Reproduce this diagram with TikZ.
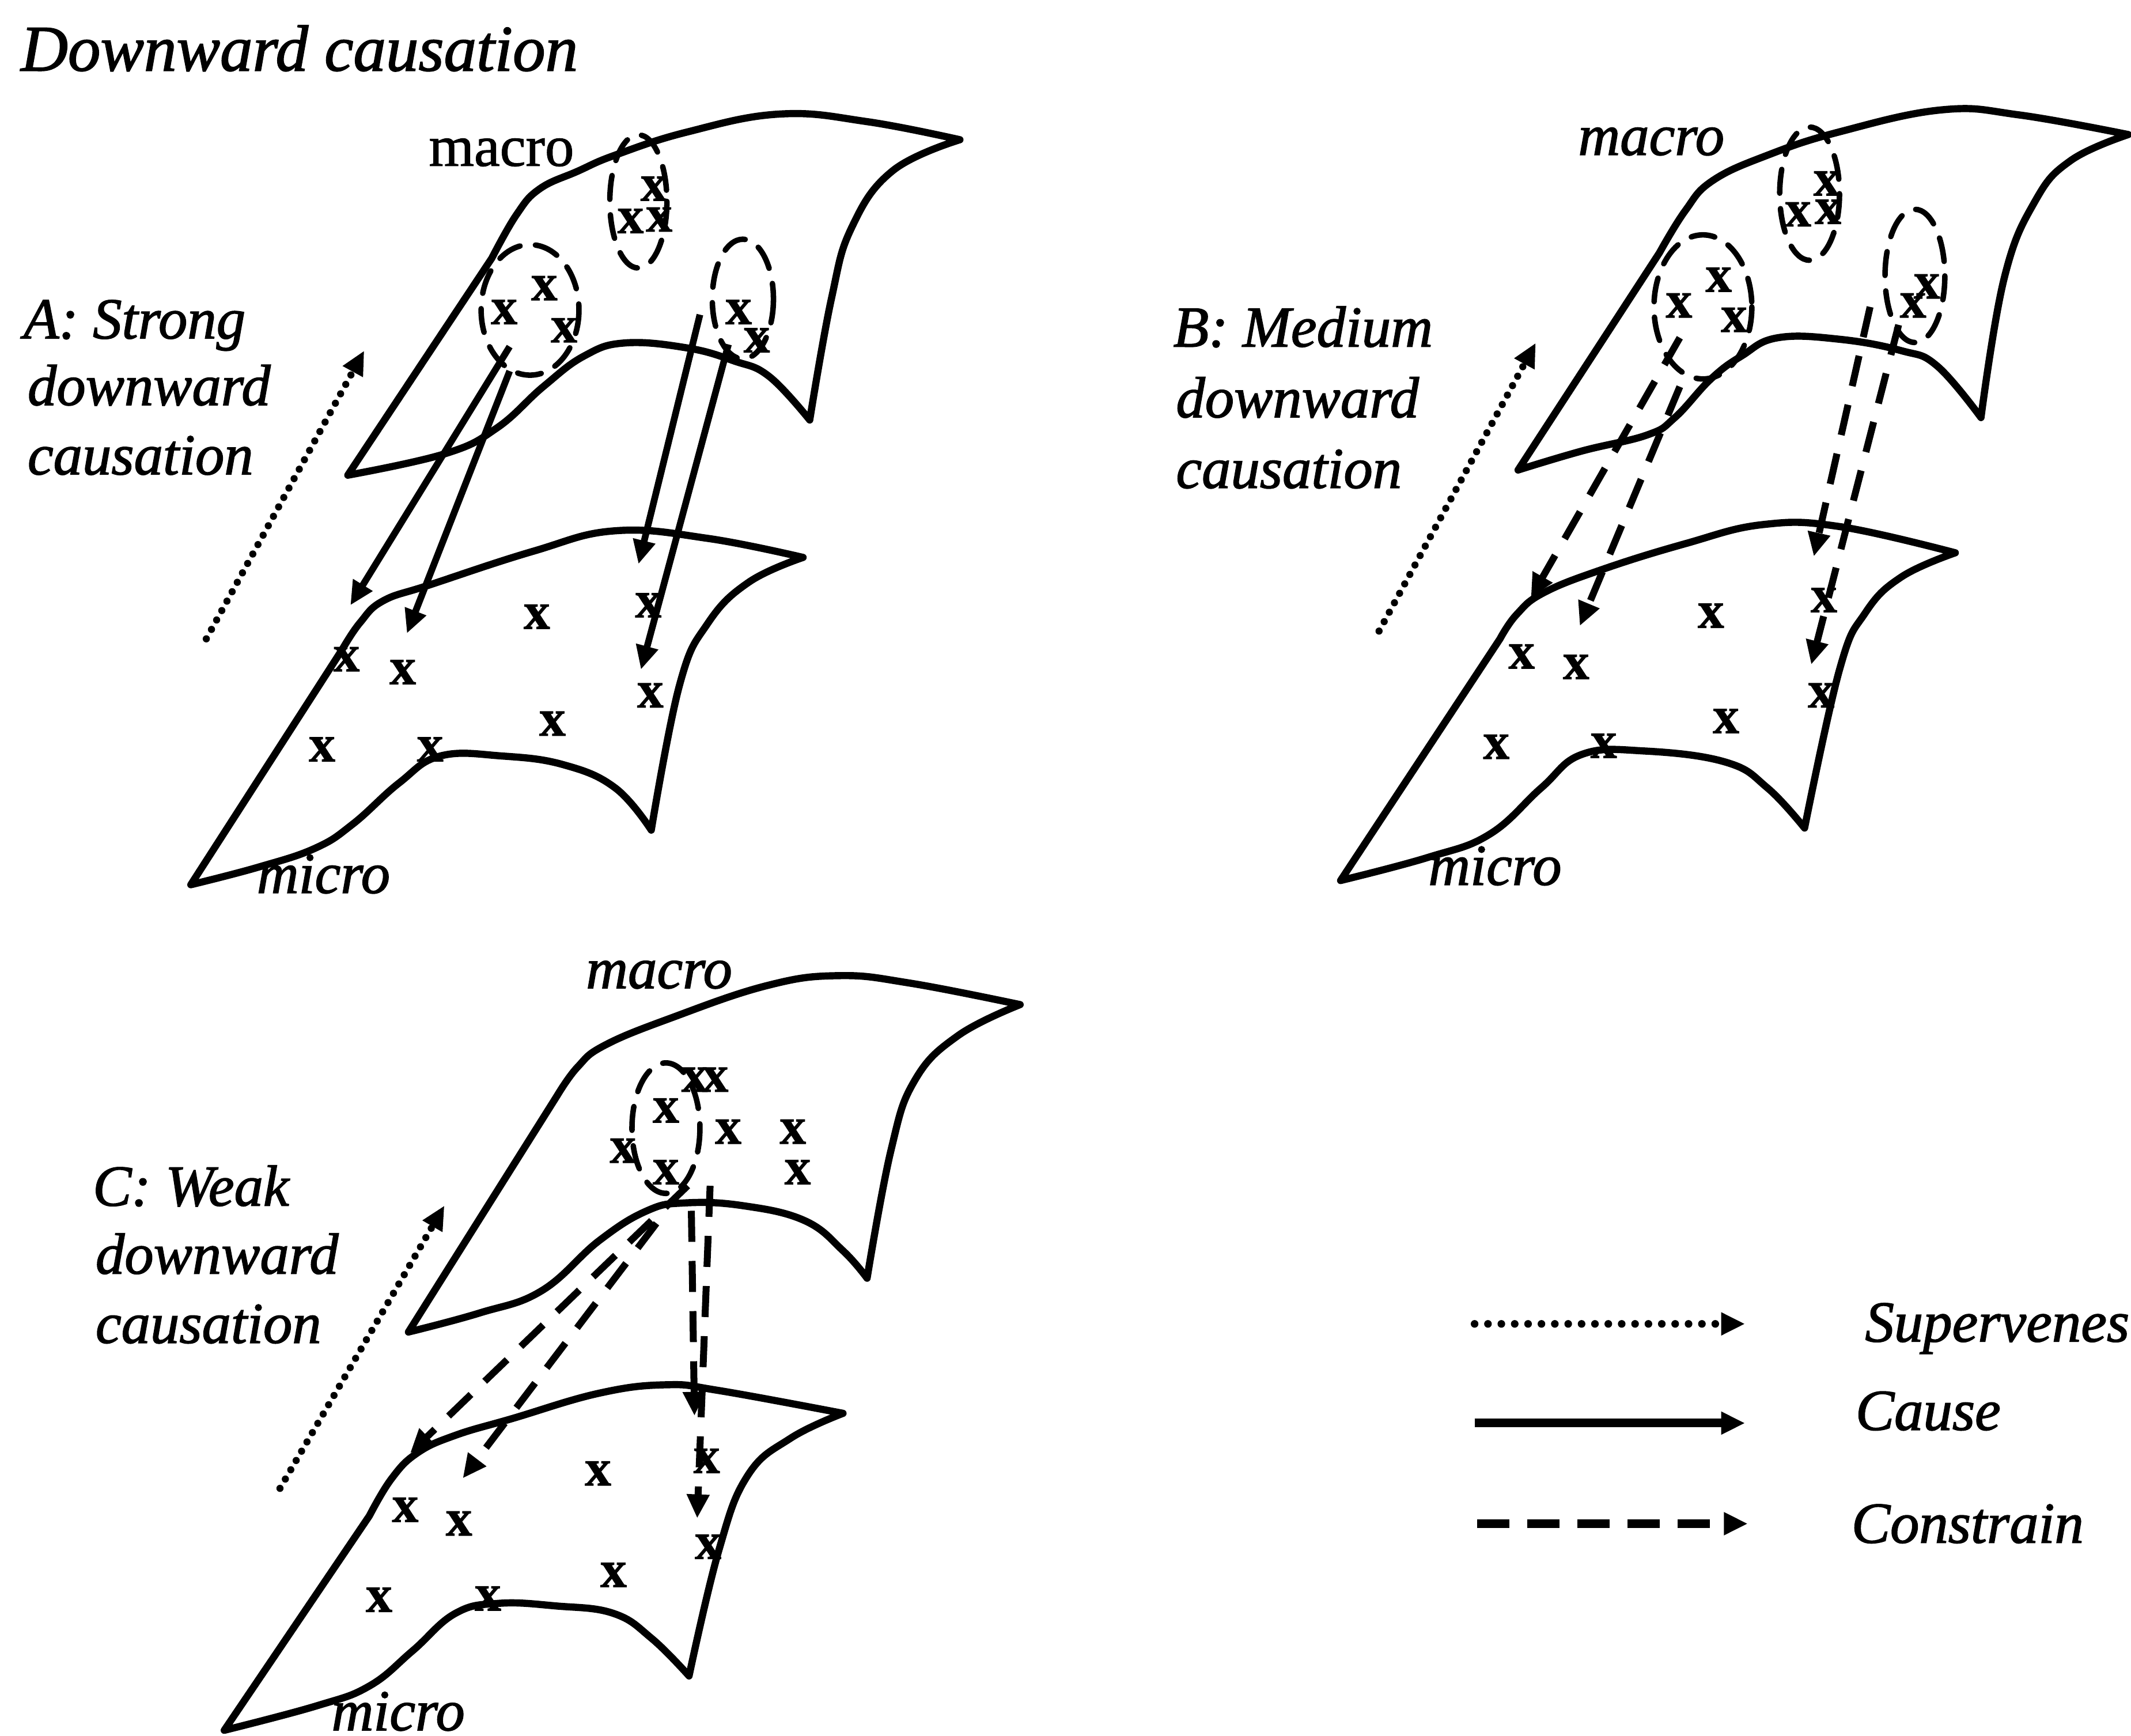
\documentclass[tikz,border=0pt]{standalone}
\usepackage{fontspec}
\setmainfont{Liberation Serif}[ItalicFeatures={FakeBold=1.6},UprightFeatures={FakeBold=1.2},BoldFeatures={FakeBold=1.2}]
\usetikzlibrary{arrows.meta}
\tikzset{
  surf/.style={line width=3pt,line cap=round,line join=round},
  ring/.style={line width=2.3pt,dash pattern=on 10pt off 6.5pt,line cap=round},
  lab/.style={anchor=base west,inner sep=0pt,font=\fontsize{24.3}{28}\selectfont\itshape},
  mlab/.style={anchor=base,inner sep=0pt,font=\fontsize{24.3}{28}\selectfont\itshape},
  xm/.style={inner sep=0pt,font=\fontsize{22}{24}\selectfont\bfseries},
  tipA/.style={-{Triangle[length=10pt,width=9pt]}},
  super/.style={tipA,line width=3pt,line cap=round,dash pattern=on 0pt off 4.5pt},
  cause/.style={tipA,line width=2.8pt},
  constr/.style={tipA,line width=2.9pt,dash pattern=on 13pt off 8pt},
  sm/.style={smooth,tension=.7},
}
\newcommand{\xmarks}[1]{\foreach \p/\q in {#1}{\node[xm] at (\p,\q) {x};}}
\begin{document}
\begin{tikzpicture}[x=.02cm,y=-.02cm]
\fill[white] (0,0) rectangle (1568,1277);
\useasboundingbox (0,0) rectangle (1568,1277);
% ---------- A
\draw[surf] (255.9,349.6) -- (361.9,189.9) plot[sm] coordinates {(361.9,189.9)(380,158)(397,139)(425,126)(452.7,114.1)(505.7,97.1)(573.8,83.9)(638,89.5)(706.3,102.8)}
  plot[sm] coordinates {(706.3,102.8)(657,125.5)(626.8,167.1)(611.7,220)(595.8,309)}
  plot[sm] coordinates {(595.8,309)(566,277)(540,265.5)(505.7,256)(460,252.3)(430,261.8)(399.7,284.5)(365.7,314.8)(327.8,333.7)(255.9,349.6)};
\draw[surf] (140.4,650.9) -- (252,477.5) plot[sm] coordinates {(252,477.5)(265,458)(282,442)(316.5,430.2)(392.2,405.6)(452.7,390.5)(520.8,396.1)(590.9,410.1)}
  plot[sm] coordinates {(590.9,410.1)(551,428.3)(520.8,458.6)(500,504)(479.2,610.7)}
  plot[sm] coordinates {(479.2,610.7)(452.7,579.7)(414.9,562.7)(369.4,556.2)(324,556.2)(293.7,576)(259.7,606.2)(232,624)(190,638)(140.4,650.9)};
\draw[ring] (390,228) ellipse [x radius=36,y radius=48];
\draw[ring] (469.7,148.2) ellipse [x radius=21,y radius=49];
\draw[ring] (546.6,220) ellipse [x radius=22.5,y radius=44];
\xmarks{371/229.6,400.5/212,415/243,464/162.6,485/161.5,481/138.8,543.5/229.6,556.8/250.4,
  395/453.7,255/485,296.4/494.5,477/445.3,478.5/511.6,406.5/532.4,237/551.3,316.5/551.3}
\coordinate (a1s) at (375,255); \coordinate (a1e) at (257.8,445.3);
\coordinate (a2s) at (375,273); \coordinate (a2e) at (299.4,466);
\coordinate (a3s) at (515,231.5); \coordinate (a3e) at (469.8,415);
\coordinate (a4s) at (536,253.4); \coordinate (a4e) at (471.6,492.6);
\coordinate (asus) at (151.8,470); \coordinate (asue) at (268,258);
\draw[cause] (a1s) -- (a1e);
\draw[cause] (a2s) -- (a2e);
\draw[cause] (a3s) -- (a3e);
\draw[cause] (a4s) -- (a4e);
\draw[super] (asus) -- (asue);
\node[anchor=base,inner sep=0pt,font=\fontsize{24.3}{28}\selectfont] (amacro) at (369,122) {macro};
\node[mlab] (amicro) at (238,657) {micro};
\node[lab] (a1) at (17,249) {A: Strong};
\node[lab] (a2) at (20,298) {downward};
\node[lab] (a3) at (20,349) {causation};
\node[lab,font=\fontsize{27.3}{30}\selectfont\itshape] (title) at (15,52) {Downward causation};
% ---------- B
\draw[surf] (1117,345.8) -- (1221,186) plot[sm] coordinates {(1221,186)(1240,155)(1260,133)(1300.5,114.2)(1353.5,97)(1429,80.8)(1486,84.6)(1566,99)}
  plot[sm] coordinates {(1566,99)(1523.8,118)(1497.3,148.2)(1474.6,205)(1457.6,307.2)}
  plot[sm] coordinates {(1457.6,307.2)(1425.4,269.3)(1399,258)(1353.5,249.6)(1308,248.5)(1281.6,261.8)(1258.9,278.8)(1232.4,307.2)(1212,320)(1164,331.8)(1117,345.8)};
\draw[surf] (986.4,647.8) -- (1103.7,470) plot[sm] coordinates {(1103.7,470)(1116,452)(1136,436)(1179.4,418.8)(1240,400)(1296.7,386)(1353.5,387.4)(1438.7,406.7)}
  plot[sm] coordinates {(1438.7,406.7)(1399,424.5)(1372.4,451)(1353.5,492.7)(1327.8,609.2)}
  plot[sm] coordinates {(1327.8,609.2)(1300.5,579.7)(1270,560.8)(1209.7,552.5)(1164,555)(1134,579.7)(1096,613.8)(1050.7,630.8)(986.4,647.8)};
\draw[ring] (1253,225.8) ellipse [x radius=36,y radius=53];
\draw[ring] (1331.5,142.5) ellipse [x radius=22,y radius=49];
\draw[ring] (1409,203) ellipse [x radius=22,y radius=49];
\xmarks{1235.4/224.7,1264.6/205.8,1276/235.3,1323/157.7,1345/155.8,1344/135,1417.8/210.7,1407.6/224.7,
  1258.9/453,1119.6/483,1159.7/490.7,1342/441.5,1340/511.6,1270/530.5,1101/549.4,1180/548.7}
\coordinate (b1s) at (1236,248.5); \coordinate (b1e) at (1126.4,439.7);
\coordinate (b2s) at (1236,284.5); \coordinate (b2e) at (1162.4,460.5);
\coordinate (b3s) at (1376,225.8); \coordinate (b3e) at (1334.6,409.4);
\coordinate (b4s) at (1397,239); \coordinate (b4e) at (1332.7,488.9);
\coordinate (bsus) at (1014.7,464.3); \coordinate (bsue) at (1130,252.3);
\draw[constr] (b1s) -- (b1e);
\draw[constr] (b2s) -- (b2e);
\draw[constr] (b3s) -- (b3e);
\draw[constr] (b4s) -- (b4e);
\draw[super] (bsus) -- (bsue);
\node[mlab] (bmacro) at (1215,114) {macro};
\node[mlab] (bmicro) at (1100,651) {micro};
\node[lab] (b1) at (863,255) {B: Medium};
\node[lab] (b2) at (865,307) {downward};
\node[lab] (b3) at (865,359) {causation};
% ---------- C
\draw[surf] (300.5,980) -- (410,806) plot[sm] coordinates {(410,806)(425,785)(445,769)(493.6,749)(564,725.2)(616.8,717.8)(669.6,723.3)(750.6,739.1)}
  plot[sm] coordinates {(750.6,739.1)(704.8,762)(673,795)(655.5,846.6)(638,940.4)}
  plot[sm] coordinates {(638,940.4)(620.3,920.2)(592,898)(546.4,887)(504,885)(476,890.8)(440.8,912.8)(398.6,949.6)(352.8,966)(300.5,980)};
\draw[surf] (165,1273) -- (271.8,1115.2) plot[sm] coordinates {(271.8,1115.2)(288,1088)(307,1069)(335,1056)(377.4,1043.5)(440.8,1025)(490,1018.8)(528.8,1023)(620.3,1039.8)}
  plot[sm] coordinates {(620.3,1039.8)(581.6,1058.2)(550,1085.8)(528.8,1141)(507,1233)}
  plot[sm] coordinates {(507,1233)(479.5,1205.4)(451.4,1187)(409,1181.5)(367,1179.6)(335,1187)(303.5,1214.6)(271.8,1240.4)(233,1255)(165,1273)};
\draw[ring] (490,830) ellipse [x radius=25,y radius=48];
\xmarks{490/817,526.3/794.3,511/794.3,535.8/832.6,583.4/832.6,586.9/862.4,458.4/846.6,490/862.4,
  440/1084,298.2/1110.8,337.7/1120.8,520/1074.8,521/1138,451.4/1158.7,278.9/1177,359/1176}
\coordinate (c1s) at (506,872.4); \coordinate (c1e) at (301.8,1069);
\coordinate (c2s) at (483,900); \coordinate (c2e) at (340.5,1087.6);
\coordinate (c3s) at (508.7,890.8); \coordinate (c3e) at (511,1041.6);
\coordinate (c4s) at (522.5,872.4); \coordinate (c4e) at (513,1117);
\coordinate (csus) at (206,1095); \coordinate (csue) at (327,887);
\draw[constr] (c1s) -- (c1e);
\draw[constr] (c2s) -- (c2e);
\draw[constr] (c3s) -- (c3e);
\draw[constr] (c4s) -- (c4e);
\draw[super] (csus) -- (csue);
\node[mlab] (cmacro) at (485,727) {macro};
\node[mlab] (cmicro) at (293,1273) {micro};
\node[lab] (c1) at (68,887) {C: Weak};
\node[lab] (c2) at (70,937) {downward};
\node[lab] (c3) at (70,988) {causation};
% ---------- legend
\coordinate (l1s) at (1085,974); \coordinate (l1e) at (1284,974);
\coordinate (l2s) at (1085,1047); \coordinate (l2e) at (1284,1047);
\coordinate (l3s) at (1087,1121); \coordinate (l3e) at (1286,1121);
\draw[tipA,line width=3.2pt,line cap=round,dash pattern=on 0pt off 5.6pt] (l1s) -- (l1e);
\draw[tipA,line width=3.6pt] (l2s) -- (l2e);
\draw[tipA,line width=3.6pt,dash pattern=on 13.5pt off 7.5pt] (l3s) -- (l3e);
\node[lab] (lg1) at (1372,987) {Supervenes};
\node[lab] (lg2) at (1365,1052) {Cause};
\node[lab] (lg3) at (1362,1135) {Constrain};
\end{tikzpicture}
\end{document}
